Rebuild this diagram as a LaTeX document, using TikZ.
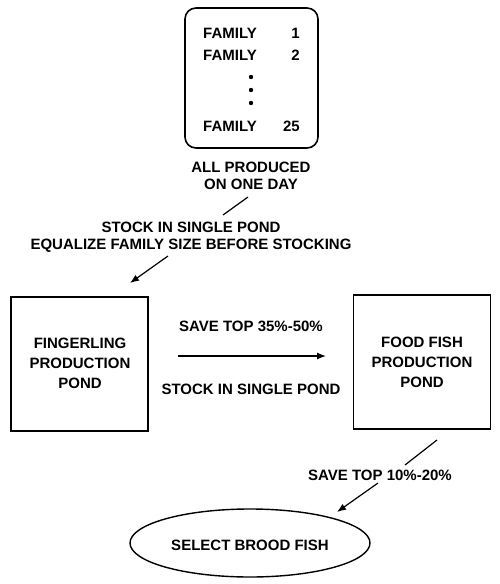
\documentclass[tikz,border=0pt]{standalone}
\usepackage{fontspec}
\setmainfont{Liberation Sans}
\usetikzlibrary{positioning}
\usetikzlibrary{arrows,arrows.meta,shapes}
\tikzstyle{pond}=[rectangle,draw,line width=1.6pt,minimum width=137pt,minimum height=134pt,inner sep=0pt]
\tikzstyle{batch}=[rectangle,draw,rounded corners=11pt,line width=1.6pt,minimum width=133pt,minimum height=140pt,inner sep=0pt]
\tikzstyle{brood}=[ellipse,draw,line width=1.4pt,minimum width=240pt,minimum height=68pt,inner sep=0pt]
\tikzstyle{lbl}=[font=\fontsize{15}{16.5}\selectfont\bfseries,align=center,inner sep=0pt]
\tikzstyle{pondlbl}=[font=\fontsize{15}{20}\selectfont\bfseries,align=center,inner sep=0pt]
\tikzstyle{edge} = [draw,line width=1.2pt,-{Latex[length=9pt,width=7pt]}]
\tikzstyle{leader} = [draw,line width=1.2pt]

\begin{document}
\begin{tikzpicture}[x=1pt,y=-1pt]
  \useasboundingbox (0,0) rectangle (500,584);

  % families spawned on one day
  \node[batch] (spawn) at (251.5,78) {};
  \foreach \y/\num in {33/1, 55/2, 126/25}
  {
    \node[lbl,anchor=west] (fam\num) at (203,\y) {FAMILY};
    \node[lbl,anchor=east] (num\num) at (300,\y) {\num};
  }
  \foreach \y in {77,90,103}
    \fill (251,\y) circle (2.2pt);
  \node[lbl] (oneday) at (251,176) {ALL PRODUCED\\ON ONE DAY};

  % stocking note
  \node[lbl] (stocknote) at (191,237) {STOCK IN SINGLE POND\\EQUALIZE FAMILY SIZE BEFORE STOCKING};

  % ponds
  \node[pond] (fingerling) at (79.5,364) {};
  \node[pondlbl] (fingerlbl) at (80,363) {FINGERLING\\PRODUCTION\\POND};
  \node[pond] (foodfish) at (422,362) {};
  \node[pondlbl] (foodlbl) at (422,362) {FOOD FISH\\PRODUCTION\\POND};
  \node[lbl] (savetop) at (251,326) {SAVE TOP 35\%-50\%};
  \node[lbl] (stocksingle) at (251,389) {STOCK IN SINGLE POND};

  % brood stock selection
  \node[lbl] (saveten) at (380,475) {SAVE TOP 10\%-20\%};
  \node[brood] (brood) at (250,543) {};
  \node[lbl] (broodlbl) at (250,545) {SELECT BROOD FISH};

  \coordinate (a1) at (248,197);
  \coordinate (a2) at (223,215);
  \coordinate (b1) at (168,256);
  \coordinate (b2) at (130,283);
  \coordinate (c1) at (178,356);
  \coordinate (c2) at (326,356);
  \coordinate (d1) at (437,440);
  \coordinate (d2) at (405,465);
  \coordinate (e1) at (378,483);
  \coordinate (e2) at (337,512);

  \path[leader] (a1) -- (a2);
  \path[edge] (b1) -- (b2);
  \path[edge] (c1) -- (c2);
  \path[leader] (d1) -- (d2);
  \path[edge] (e1) -- (e2);
\end{tikzpicture}
\end{document}
